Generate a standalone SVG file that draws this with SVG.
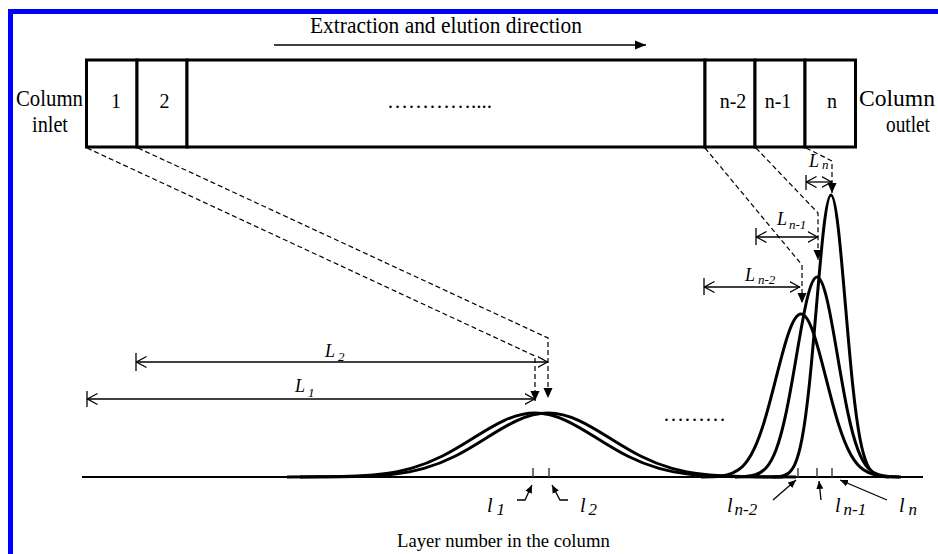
<svg xmlns="http://www.w3.org/2000/svg" width="938" height="554" viewBox="0 0 938 554">
<style>
text{font-family:"Liberation Serif","Times New Roman",serif;fill:#000}
.t{font-size:22.5px}
.c{font-size:20px}
.it{font-style:italic}
.cell{fill:#fff;stroke:#000;stroke-width:3}
.dash{fill:none;stroke:#000;stroke-width:1.2;stroke-dasharray:5 3}
.dim{fill:none;stroke:#000;stroke-width:1.3}
.ptr{fill:none;stroke:#000;stroke-width:1.3}
.curve{fill:none;stroke:#000;stroke-width:3;vector-effect:non-scaling-stroke;stroke-linejoin:round}
.tick{stroke:#444;stroke-width:1.5}
</style>
<defs>
<marker id="tri" viewBox="0 0 10 10" refX="10" refY="5" markerWidth="10" markerHeight="10" markerUnits="userSpaceOnUse" orient="auto"><path d="M0,0.5 L10,5 L0,9.5 z" fill="#000"/></marker>
<marker id="big" viewBox="0 0 11 10" refX="11" refY="5" markerWidth="11" markerHeight="10" markerUnits="userSpaceOnUse" orient="auto"><path d="M0,0.5 L11,5 L0,9.5 z" fill="#000"/></marker>
<marker id="open" viewBox="0 0 11 12" refX="10.5" refY="6" markerWidth="11" markerHeight="12" markerUnits="userSpaceOnUse" orient="auto-start-reverse"><path d="M0,0.5 L10,6 L0,11.5" fill="none" stroke="#000" stroke-width="1.2"/></marker>
<marker id="small" viewBox="0 0 8 8" refX="8" refY="4" markerWidth="8" markerHeight="8" markerUnits="userSpaceOnUse" orient="auto"><path d="M0,0.5 L8,4 L0,7.5 z" fill="#000"/></marker>
<path id="gauss" class="curve" d="M-4,0 L-3.5,0.00219 C-3.3333,0.00347 -3.1667,0.00556 -3,0.01111 C-2.8333,0.01667 -2.6667,0.02563 -2.5,0.04394 C-2.3333,0.06225 -2.1667,0.09023 -2,0.13534 C-1.8333,0.18045 -1.6667,0.24349 -1.5,0.32465 C-1.3333,0.40581 -1.1667,0.50544 -1,0.60653 C-0.8333,0.70762 -0.6667,0.80896 -0.5,0.8825 C-0.3333,0.95604 -0.1667,1 0,1 C0.1667,1 0.3333,0.95604 0.5,0.8825 C0.6667,0.80896 0.8333,0.70762 1,0.60653 C1.1667,0.50544 1.3333,0.40581 1.5,0.32465 C1.6667,0.24349 1.8333,0.18045 2,0.13534 C2.1667,0.09023 2.3333,0.06225 2.5,0.04394 C2.6667,0.02563 2.8333,0.01667 3,0.01111 C3.1667,0.00556 3.3333,0.00347 3.5,0.00219 L4,0"/>
</defs>
<rect width="938" height="554" fill="#fff"/>
<g id="frame" fill="#0000ff"><rect x="8" y="9" width="930" height="5"/><rect x="8" y="9" width="5" height="545"/></g>

<g id="direction">
<text class="t" x="310" y="33" textLength="272" lengthAdjust="spacingAndGlyphs">Extraction and elution direction</text>
<line x1="274" y1="45" x2="646" y2="45" stroke="#000" stroke-width="1.3" marker-end="url(#big)"/>
</g>

<g id="inlet-label"><text class="t" x="16" y="106" textLength="67" lengthAdjust="spacingAndGlyphs">Column</text><text class="t" x="32" y="132" textLength="36" lengthAdjust="spacingAndGlyphs">inlet</text></g>
<g id="outlet-label"><text class="t" x="859" y="106" textLength="76" lengthAdjust="spacingAndGlyphs">Column</text><text class="t" x="886" y="132" textLength="44" lengthAdjust="spacingAndGlyphs">outlet</text></g>

<g id="column">
<g id="cell-1"><rect class="cell" x="86.5" y="60" width="50.5" height="87"/><text class="c" x="116" y="108" text-anchor="middle">1</text></g>
<g id="cell-2"><rect class="cell" x="137" y="60" width="50" height="87"/><text class="c" x="164.5" y="108" text-anchor="middle">2</text></g>
<g id="cell-mid"><rect class="cell" x="187" y="60" width="518" height="87"/><text x="387" y="108" font-size="21">…………....</text></g>
<g id="cell-n-2"><rect class="cell" x="705" y="60" width="50" height="87"/><text class="c" x="733" y="108" text-anchor="middle">n-2</text></g>
<g id="cell-n-1"><rect class="cell" x="755" y="60" width="50" height="87"/><text class="c" x="778" y="108" text-anchor="middle">n-1</text></g>
<g id="cell-n"><rect class="cell" x="805" y="60" width="50.5" height="87"/><text class="c" x="832" y="108" text-anchor="middle">n</text></g>
</g>

<g id="axis">
<line x1="82" y1="477" x2="923" y2="477" stroke="#000" stroke-width="2"/>
<g class="tick"><line x1="533" y1="468" x2="533" y2="477"/><line x1="549" y1="468" x2="549" y2="477"/><line x1="798" y1="468" x2="798" y2="477"/><line x1="817" y1="468" x2="817" y2="477"/><line x1="832" y1="468" x2="832" y2="477"/></g>
<text x="397" y="547" font-size="18.7">Layer number in the column</text>
<text x="663" y="421" font-size="21">………</text>
</g>

<g id="peak-1"><use href="#gauss" transform="translate(535,477) scale(62,-64)"/></g>
<g id="peak-2"><use href="#gauss" transform="translate(548,477) scale(62,-64)"/></g>
<g id="peak-n-2"><use href="#gauss" transform="translate(801,477) scale(25,-163)"/></g>
<g id="peak-n-1"><use href="#gauss" transform="translate(817,477) scale(20.5,-200)"/></g>
<g id="peak-n"><use href="#gauss" transform="translate(831,477) scale(14.5,-282)"/></g>

<g id="connectors">
<polyline class="dash" points="87,148 535,356 535,401" marker-end="url(#tri)"/>
<polyline class="dash" points="138,148 548,338 548,398" marker-end="url(#tri)"/>
<polyline class="dash" points="705,148 802,265 802,303" marker-end="url(#tri)"/>
<polyline class="dash" points="756,148 818,213 818,260" marker-end="url(#tri)"/>
<polyline class="dash" points="806,148 832,161 832,193" marker-end="url(#tri)"/>

<line class="dim" x1="87" y1="399" x2="535" y2="399" marker-start="url(#open)" marker-end="url(#open)"/>
<line class="dim" x1="87" y1="391" x2="87" y2="407"/>
<line class="dim" x1="136" y1="362" x2="548" y2="362" marker-start="url(#open)" marker-end="url(#open)"/>
<line class="dim" x1="136" y1="353" x2="136" y2="371"/>
<line class="dim" x1="704" y1="287" x2="800" y2="287" marker-start="url(#open)" marker-end="url(#open)"/>
<line class="dim" x1="704" y1="278" x2="704" y2="295"/>
<line class="dim" x1="756" y1="237" x2="818" y2="237" marker-start="url(#open)" marker-end="url(#open)"/>
<line class="dim" x1="756" y1="228" x2="756" y2="245"/>
<line class="dim" x1="806" y1="182" x2="832" y2="182" marker-start="url(#open)" marker-end="url(#open)"/>
<line class="dim" x1="806" y1="175" x2="806" y2="190"/>

<polyline class="ptr" points="517,500 525,500 532,485" marker-end="url(#small)"/>
<polyline class="ptr" points="568,500 560,500 552,485" marker-end="url(#small)"/>
<line class="ptr" x1="773" y1="500" x2="796" y2="480" marker-end="url(#small)"/>
<line class="ptr" x1="821" y1="500" x2="819" y2="481" marker-end="url(#small)"/>
<line class="ptr" x1="887" y1="500" x2="840" y2="480" marker-end="url(#small)"/>
</g>

<g id="dim-labels" class="it">
<text x="295" y="392" font-size="18">L<tspan font-size="13" dx="3" dy="5">1</tspan></text>
<text x="325" y="357" font-size="18">L<tspan font-size="13" dx="3" dy="4">2</tspan></text>
<text x="745" y="281" font-size="18">L<tspan font-size="13" dx="3" dy="3">n-2</tspan></text>
<text x="777" y="225" font-size="18">L<tspan font-size="13" dx="2" dy="4">n-1</tspan></text>
<text x="809" y="167" font-size="18">L<tspan font-size="13" dx="3" dy="2">n</tspan></text>
</g>
<g id="pos-labels" class="it">
<text x="487" y="512" font-size="20">l<tspan font-size="17" dx="4" dy="3">1</tspan></text>
<text x="580" y="512" font-size="20">l<tspan font-size="17" dx="3" dy="3">2</tspan></text>
<text x="727" y="512" font-size="20">l<tspan font-size="17" dx="2" dy="3">n-2</tspan></text>
<text x="835" y="512" font-size="20">l<tspan font-size="17" dx="3" dy="3">n-1</tspan></text>
<text x="899" y="512" font-size="20">l<tspan font-size="17" dx="4" dy="3">n</tspan></text>
</g>
</svg>
